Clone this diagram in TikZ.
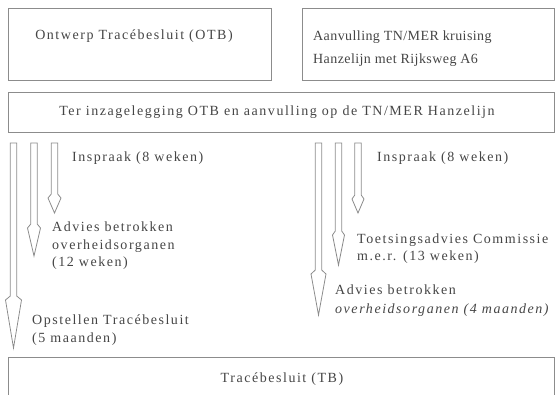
\documentclass[tikz,border=0pt]{standalone}
\usepackage{fontspec}
\setmainfont{Liberation Serif}[LetterSpace=11]
\newfontfamily\tightserif{Liberation Serif}[LetterSpace=3]
\definecolor{lin}{HTML}{8C8C8C}
\definecolor{txt}{HTML}{454545}
\usetikzlibrary{calc}
\newcommand\hollowarrow[6]{% name, x, ytop, yhead, halfwidth head, ytip
  \coordinate (#1s) at (#2,#3);
  \coordinate (#1e) at (#2,#6);
  \draw[arr] ($(#1s)+(-3.2,0)$) -- ($(#2,#4)+(-3.2,0)$) -- ($(#2,#4)+(-#5,4)$) -- (#1e)
    -- ($(#2,#4)+(#5,4)$) -- ($(#2,#4)+(3.2,0)$) -- ($(#1s)+(3.2,0)$) -- cycle;}
\begin{document}
\begin{tikzpicture}[x=1pt,y=-1pt,
  box/.style={draw=lin,line width=0.9pt,rectangle,inner sep=0pt},
  arr/.style={draw=lin,line width=0.8pt,line join=miter},
  lbl/.style={text=txt,font=\fontsize{14}{17.5}\selectfont,inner sep=0pt,align=left},
  btxt/.style={text=txt,font=\fontsize{14}{22.5}\selectfont,inner sep=0pt,align=left}]
\useasboundingbox (0,0) rectangle (557,395);
\clip (0,0) rectangle (557,395);
% boxes
\node[box,minimum width=263pt,minimum height=72pt,anchor=north west] (otb) at (8,8) {};
\node[box,minimum width=252pt,minimum height=72pt,anchor=north west] (tnmer) at (302,8) {};
\node[box,minimum width=546pt,minimum height=40pt,anchor=north west] (inzage) at (8,92) {};
\node[box,minimum width=546pt,minimum height=50pt,anchor=north west] (tb) at (8,357) {};
% box texts
\node[btxt] (totb) at (134,36) {Ontwerp Tracébesluit (OTB)};
\node[btxt,anchor=west,font=\tightserif\fontsize{14}{22.5}\selectfont] (ttnmer) at (313,48.5) {Aanvulling TN/MER kruising\\Hanzelijn met Rijksweg A6};
\node[btxt] (tinzage) at (277,112) {Ter inzagelegging OTB en aanvulling op de TN/MER Hanzelijn};
\node[btxt] (ttb) at (282,379) {Tracébesluit (TB)};
% left arrows
\hollowarrow{la}{13.5}{143}{296}{8}{348}
\hollowarrow{lb}{34}{143}{224}{6.5}{256}
\hollowarrow{lc}{54.5}{143}{194}{6.5}{213}
% right arrows
\hollowarrow{ra}{318.5}{143}{270}{7.5}{315}
\hollowarrow{rb}{338.5}{143}{231}{6}{265}
\hollowarrow{rc}{358}{143}{195}{6}{213}
% left labels
\node[lbl,anchor=west] (l1) at (72,158) {Inspraak (8 weken)};
\node[lbl,anchor=north west] (l2) at (52,222) {Advies betrokken\\overheidsorganen\\(12 weken)};
\node[lbl,anchor=north west] (l3) at (32,315) {Opstellen Tracébesluit\\(5 maanden)};
% right labels
\node[lbl,anchor=west] (r1) at (377,158) {Inspraak (8 weken)};
\node[lbl,anchor=north west,font=\fontsize{14}{16.5}\selectfont] (r2) at (357,234) {Toetsingsadvies Commissie\\m.e.r. (13 weken)};
\node[lbl,anchor=north west,font=\fontsize{14}{19}\selectfont] (r3) at (335,285) {Advies betrokken\\\textit{overheidsorganen (4 maanden)}};
\end{tikzpicture}
\end{document}
